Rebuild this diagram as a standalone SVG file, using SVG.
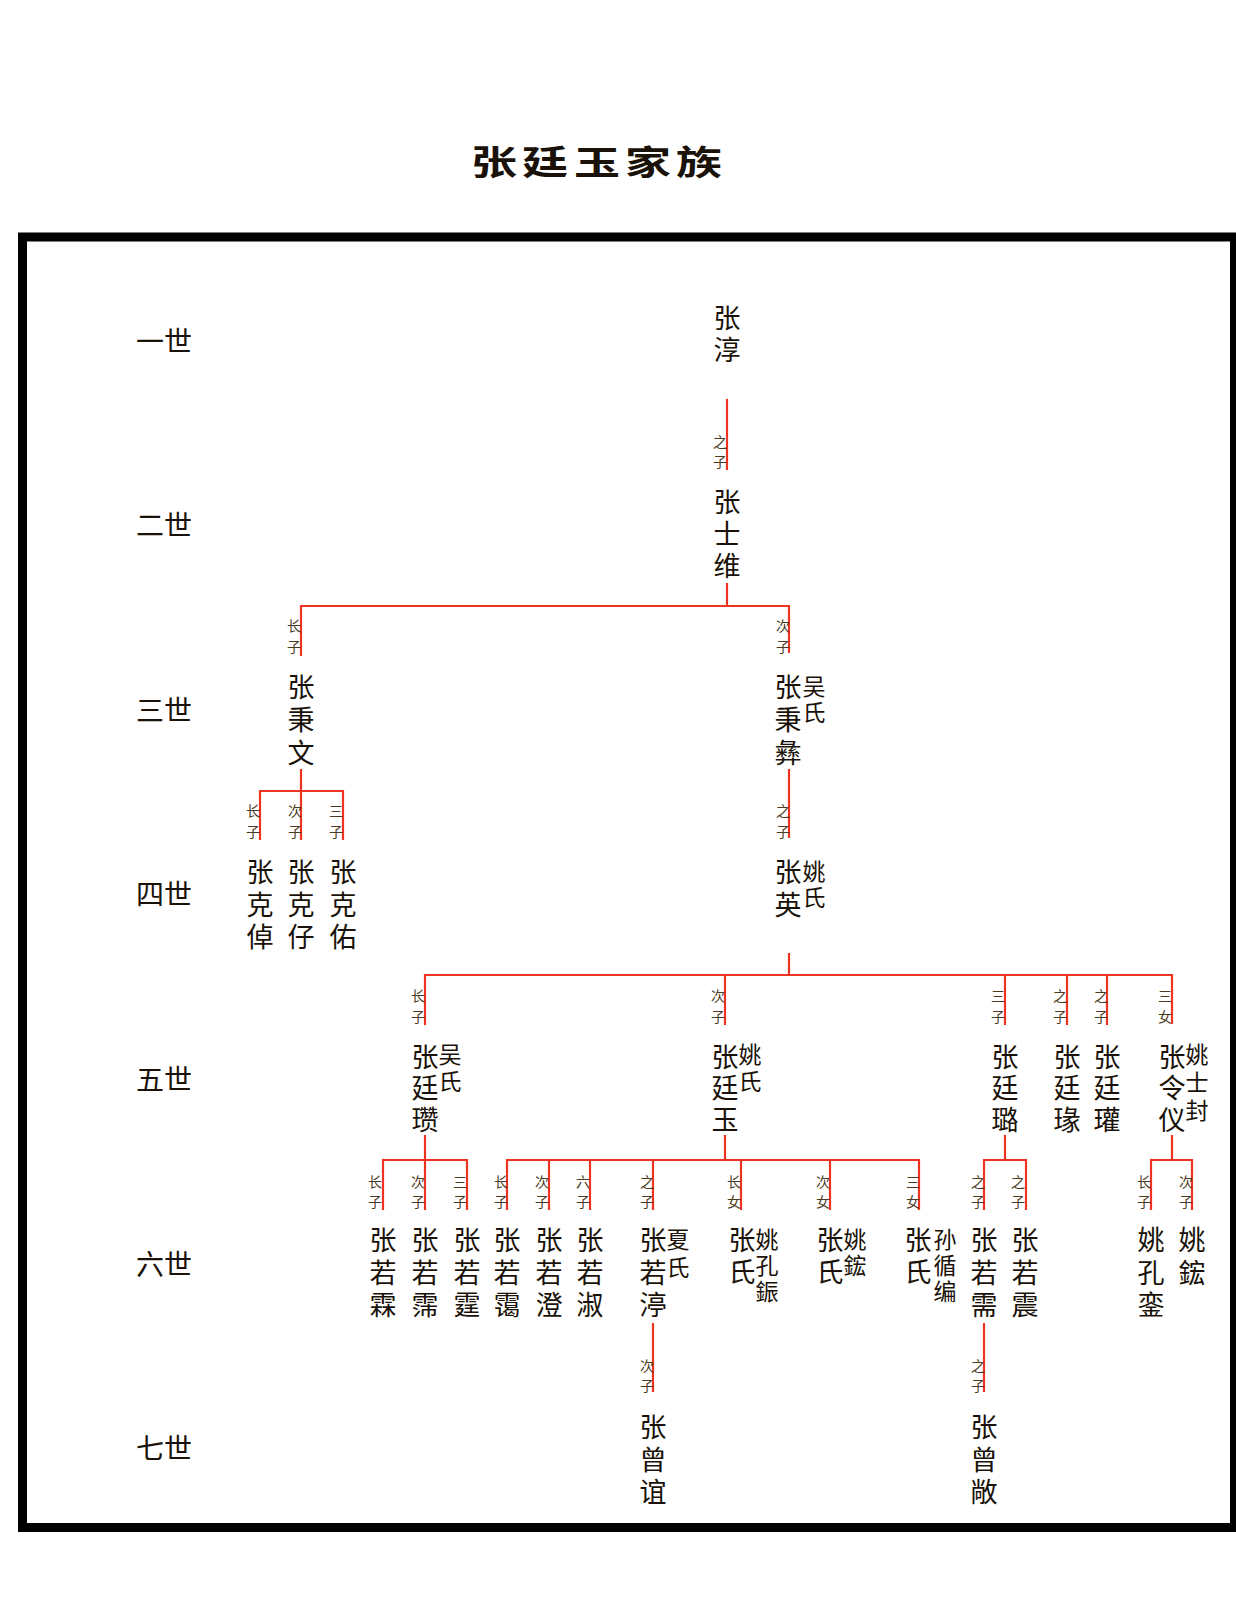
<svg xmlns="http://www.w3.org/2000/svg" width="1236" height="1618" viewBox="0 0 1236 1618">
<style>
text{font-family:"Noto Sans CJK SC","Noto Sans CJK TC",sans-serif;fill:#1a1208;text-anchor:middle;dominant-baseline:central}
.n{font-size:27px}
.s{font-size:23px}
.l{font-size:14px;fill:#4a3a22}
.g{font-size:28px}
.t{font-size:40px;font-weight:700}
.c{stroke:#ec3420;stroke-width:2.2;fill:none}
</style>
<rect width="1236" height="1618" fill="#ffffff"/>
<rect x="22.5" y="237" width="1212" height="1290.5" fill="none" stroke="#000" stroke-width="9"/>
<g id="title">
<text class="t" transform="translate(494 160) scale(1.15 0.85)">张</text>
<text class="t" transform="translate(545 160) scale(1.15 0.85)">廷</text>
<text class="t" transform="translate(597 160) scale(1.15 0.85)">玉</text>
<text class="t" transform="translate(648 160) scale(1.15 0.85)">家</text>
<text class="t" transform="translate(699 160) scale(1.15 0.85)">族</text>
</g>
<g id="generations">
<text class="g" x="164" y="340">一世</text>
<text class="g" x="164" y="524">二世</text>
<text class="g" x="164" y="709">三世</text>
<text class="g" x="164" y="893">四世</text>
<text class="g" x="164" y="1078">五世</text>
<text class="g" x="164" y="1263">六世</text>
<text class="g" x="164" y="1447">七世</text>
</g>
<g id="connectors">
<path class="c" d="M727 399V470"/>
<path class="c" d="M727 583V606M301 656V606H789V653"/>
<path class="c" d="M301 769V791M260 840V791H343V840M301 791V840"/>
<path class="c" d="M789 769V838"/>
<path class="c" d="M789 953V975M425 1025V975H1172V1024M725 975V1025M1005 975V1025M1067 975V1025M1107 975V1025"/>
<path class="c" d="M425 1135V1160M383 1210V1160H467V1210M425 1160V1210"/>
<path class="c" d="M725 1135V1160M507 1210V1160H919V1210M549 1160V1210M590 1160V1210M653 1160V1210M741 1160V1210M830 1160V1210"/>
<path class="c" d="M1005 1135V1160M984 1210V1160H1026V1210"/>
<path class="c" d="M1172 1135V1160M1151 1210V1160H1192V1210"/>
<path class="c" d="M653 1323V1392M984 1323V1392"/>
</g>
<g transform="translate(0 -2)">
<g id="labels">
<text class="l"><tspan x="720" y="443">之</tspan><tspan x="720" y="463">子</tspan></text>
<text class="l"><tspan x="294" y="627">长</tspan><tspan x="294" y="648">子</tspan></text>
<text class="l"><tspan x="783" y="627">次</tspan><tspan x="783" y="648">子</tspan></text>
<text class="l"><tspan x="253" y="812">长</tspan><tspan x="253" y="833">子</tspan></text>
<text class="l"><tspan x="295" y="812">次</tspan><tspan x="295" y="833">子</tspan></text>
<text class="l"><tspan x="336" y="812">三</tspan><tspan x="336" y="833">子</tspan></text>
<text class="l"><tspan x="783" y="812">之</tspan><tspan x="783" y="833">子</tspan></text>
<text class="l"><tspan x="418" y="997">长</tspan><tspan x="418" y="1018">子</tspan></text>
<text class="l"><tspan x="718" y="997">次</tspan><tspan x="718" y="1018">子</tspan></text>
<text class="l"><tspan x="998" y="997">三</tspan><tspan x="998" y="1018">子</tspan></text>
<text class="l"><tspan x="1060" y="997">之</tspan><tspan x="1060" y="1018">子</tspan></text>
<text class="l"><tspan x="1101" y="997">之</tspan><tspan x="1101" y="1018">子</tspan></text>
<text class="l"><tspan x="1165" y="997">三</tspan><tspan x="1165" y="1018">女</tspan></text>
<text class="l"><tspan x="375" y="1183">长</tspan><tspan x="375" y="1203">子</tspan></text>
<text class="l"><tspan x="418" y="1183">次</tspan><tspan x="418" y="1203">子</tspan></text>
<text class="l"><tspan x="460" y="1183">三</tspan><tspan x="460" y="1203">子</tspan></text>
<text class="l"><tspan x="501" y="1183">长</tspan><tspan x="501" y="1203">子</tspan></text>
<text class="l"><tspan x="542" y="1183">次</tspan><tspan x="542" y="1203">子</tspan></text>
<text class="l"><tspan x="583" y="1183">六</tspan><tspan x="583" y="1203">子</tspan></text>
<text class="l"><tspan x="647" y="1183">之</tspan><tspan x="647" y="1203">子</tspan></text>
<text class="l"><tspan x="734" y="1183">长</tspan><tspan x="734" y="1203">女</tspan></text>
<text class="l"><tspan x="823" y="1183">次</tspan><tspan x="823" y="1203">女</tspan></text>
<text class="l"><tspan x="913" y="1183">三</tspan><tspan x="913" y="1203">女</tspan></text>
<text class="l"><tspan x="978" y="1183">之</tspan><tspan x="978" y="1203">子</tspan></text>
<text class="l"><tspan x="1018" y="1183">之</tspan><tspan x="1018" y="1203">子</tspan></text>
<text class="l"><tspan x="1144" y="1183">长</tspan><tspan x="1144" y="1203">子</tspan></text>
<text class="l"><tspan x="1186" y="1183">次</tspan><tspan x="1186" y="1203">子</tspan></text>
<text class="l"><tspan x="647" y="1367">次</tspan><tspan x="647" y="1387">子</tspan></text>
<text class="l"><tspan x="978" y="1367">之</tspan><tspan x="978" y="1387">子</tspan></text>
</g>
<g id="n-zhangchun"><text class="n"><tspan x="727" y="318">张</tspan><tspan x="727" y="350">淳</tspan></text></g>
<g id="n-zhangshiwei"><text class="n"><tspan x="727" y="502">张</tspan><tspan x="727" y="534">士</tspan><tspan x="727" y="566">维</tspan></text></g>
<g id="n-zhangbingwen"><text class="n"><tspan x="301" y="687">张</tspan><tspan x="301" y="720">秉</tspan><tspan x="301" y="753">文</tspan></text></g>
<g id="n-zhangbingyi"><text class="n"><tspan x="788" y="687">张</tspan><tspan x="788" y="720">秉</tspan><tspan x="788" y="753">彝</tspan></text><text class="s"><tspan x="814" y="687">吴</tspan><tspan x="814" y="713">氏</tspan></text></g>
<g id="n-zhangkezhuo"><text class="n"><tspan x="260" y="872">张</tspan><tspan x="260" y="905">克</tspan><tspan x="260" y="937">倬</tspan></text></g>
<g id="n-zhangkezi"><text class="n"><tspan x="301" y="872">张</tspan><tspan x="301" y="905">克</tspan><tspan x="301" y="937">仔</tspan></text></g>
<g id="n-zhangkeyou"><text class="n"><tspan x="343" y="872">张</tspan><tspan x="343" y="905">克</tspan><tspan x="343" y="937">佑</tspan></text></g>
<g id="n-zhangying"><text class="n"><tspan x="788" y="872">张</tspan><tspan x="788" y="905">英</tspan></text><text class="s"><tspan x="814" y="872">姚</tspan><tspan x="814" y="898">氏</tspan></text></g>
<g id="n-zhangtingzan"><text class="n"><tspan x="425" y="1057">张</tspan><tspan x="425" y="1088">廷</tspan><tspan x="425" y="1120">瓒</tspan></text><text class="s"><tspan x="450" y="1055">吴</tspan><tspan x="450" y="1082">氏</tspan></text></g>
<g id="n-zhangtingyu"><text class="n"><tspan x="725" y="1057">张</tspan><tspan x="725" y="1088">廷</tspan><tspan x="725" y="1120">玉</tspan></text><text class="s"><tspan x="750" y="1055">姚</tspan><tspan x="750" y="1082">氏</tspan></text></g>
<g id="n-zhangtinglu"><text class="n"><tspan x="1005" y="1057">张</tspan><tspan x="1005" y="1088">廷</tspan><tspan x="1005" y="1120">璐</tspan></text></g>
<g id="n-zhangtingzhuan"><text class="n"><tspan x="1067" y="1057">张</tspan><tspan x="1067" y="1088">廷</tspan><tspan x="1067" y="1120">瑑</tspan></text></g>
<g id="n-zhangtingguan"><text class="n"><tspan x="1107" y="1057">张</tspan><tspan x="1107" y="1088">廷</tspan><tspan x="1107" y="1120">瓘</tspan></text></g>
<g id="n-zhanglingyi"><text class="n"><tspan x="1172" y="1057">张</tspan><tspan x="1172" y="1088">令</tspan><tspan x="1172" y="1120">仪</tspan></text><text class="s"><tspan x="1197" y="1055">姚</tspan><tspan x="1197" y="1083">士</tspan><tspan x="1197" y="1111">封</tspan></text></g>
<g id="n-zhangruolin"><text class="n"><tspan x="383" y="1240">张</tspan><tspan x="383" y="1273">若</tspan><tspan x="383" y="1305">霖</tspan></text></g>
<g id="n-zhangruopei"><text class="n"><tspan x="425" y="1240">张</tspan><tspan x="425" y="1273">若</tspan><tspan x="425" y="1305">霈</tspan></text></g>
<g id="n-zhangruoting"><text class="n"><tspan x="467" y="1240">张</tspan><tspan x="467" y="1273">若</tspan><tspan x="467" y="1305">霆</tspan></text></g>
<g id="n-zhangruoai"><text class="n"><tspan x="507" y="1240">张</tspan><tspan x="507" y="1273">若</tspan><tspan x="507" y="1305">霭</tspan></text></g>
<g id="n-zhangruocheng"><text class="n"><tspan x="549" y="1240">张</tspan><tspan x="549" y="1273">若</tspan><tspan x="549" y="1305">澄</tspan></text></g>
<g id="n-zhangruoshu"><text class="n"><tspan x="590" y="1240">张</tspan><tspan x="590" y="1273">若</tspan><tspan x="590" y="1305">淑</tspan></text></g>
<g id="n-zhangruoting2"><text class="n"><tspan x="653" y="1240">张</tspan><tspan x="653" y="1273">若</tspan><tspan x="653" y="1305">渟</tspan></text><text class="s"><tspan x="678" y="1240">夏</tspan><tspan x="678" y="1268">氏</tspan></text></g>
<g id="n-zhangshi1"><text class="n"><tspan x="742" y="1240">张</tspan><tspan x="742" y="1272">氏</tspan></text><text class="s"><tspan x="767" y="1240">姚</tspan><tspan x="767" y="1266">孔</tspan><tspan x="767" y="1292">鋠</tspan></text></g>
<g id="n-zhangshi2"><text class="n"><tspan x="830" y="1240">张</tspan><tspan x="830" y="1272">氏</tspan></text><text class="s"><tspan x="855" y="1240">姚</tspan><tspan x="855" y="1266">鋐</tspan></text></g>
<g id="n-zhangshi3"><text class="n"><tspan x="918" y="1240">张</tspan><tspan x="918" y="1272">氏</tspan></text><text class="s"><tspan x="945" y="1240">孙</tspan><tspan x="945" y="1266">循</tspan><tspan x="945" y="1292">编</tspan></text></g>
<g id="n-zhangruoxu"><text class="n"><tspan x="984" y="1240">张</tspan><tspan x="984" y="1273">若</tspan><tspan x="984" y="1305">需</tspan></text></g>
<g id="n-zhangruozhen"><text class="n"><tspan x="1025" y="1240">张</tspan><tspan x="1025" y="1273">若</tspan><tspan x="1025" y="1305">震</tspan></text></g>
<g id="n-yaokongluan"><text class="n"><tspan x="1151" y="1240">姚</tspan><tspan x="1151" y="1273">孔</tspan><tspan x="1151" y="1305">銮</tspan></text></g>
<g id="n-yaohong"><text class="n"><tspan x="1192" y="1240">姚</tspan><tspan x="1192" y="1273">鋐</tspan></text></g>
<g id="n-zhangzengyi"><text class="n"><tspan x="653" y="1427">张</tspan><tspan x="653" y="1460">曾</tspan><tspan x="653" y="1492">谊</tspan></text></g>
<g id="n-zhangzengchang"><text class="n"><tspan x="984" y="1427">张</tspan><tspan x="984" y="1460">曾</tspan><tspan x="984" y="1492">敞</tspan></text></g>
</g>
</svg>
